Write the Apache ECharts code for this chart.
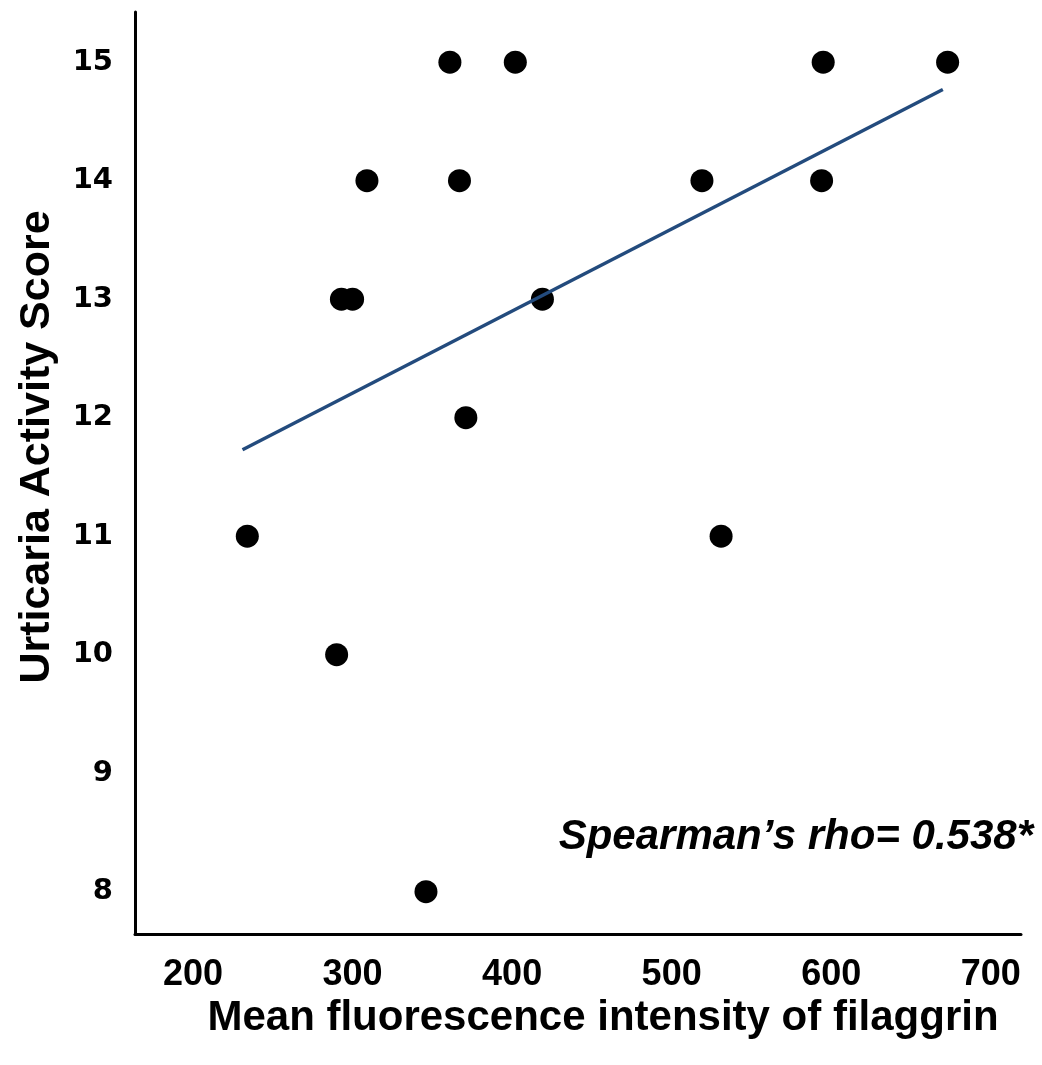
<!DOCTYPE html>
<html>
<head>
<meta charset="utf-8">
<script src="https://cdn.jsdelivr.net/npm/echarts@6/dist/echarts.min.js"></script>
<style>html,body{margin:0;padding:0;background:#fff}#c{width:1042px;height:1065px}</style>
</head>
<body>
<div id="c"></div>
<script>
// Data
const filaggrinMFI = [234, 290, 346, 531, 361, 402, 309, 367, 293, 300, 419, 371, 595, 673, 519, 594];
const uasScore     = [11,  10,  8,   11,  15,  15,  14,  14,  13,  13,  13,  12,  15,  15,  14,  14];
const trendX = [231, 670];
const trendY = [11.73, 14.77];
const xTitle = 'Mean fluorescence intensity of filaggrin';
const yTitle = 'Urticaria Activity Score';
const statText = 'Spearman\u2019s rho= 0.538*';

const points = filaggrinMFI.map((x, i) => [x, uasScore[i]]);
const trend = trendX.map((x, i) => [x, trendY[i]]);

const chart = echarts.init(document.getElementById('c'), null, {renderer: 'canvas'});
chart.setOption({
  animation: false,
  backgroundColor: '#fff',
  grid: {left: 135, right: 21, top: 12, bottom: 131, containLabel: false},
  xAxis: {
    type: 'value', min: 163.6, max: 719, splitNumber: 5,
    axisLine: {show: true, lineStyle: {color: '#000', width: 3}},
    axisTick: {show: false},
    splitLine: {show: false},
    axisLabel: {
      showMinLabel: false, showMaxLabel: false, margin: 23,
      color: '#000', fontWeight: 'bold', fontSize: 36,
      fontFamily: '"Liberation Sans", Arial, sans-serif',
      formatter: v => String(Math.round(v))
    },
    name: xTitle, nameLocation: 'middle', nameGap: 57,
    nameTextStyle: {color: '#000', fontWeight: 'bold', fontSize: 42,
      fontFamily: '"Liberation Sans", Arial, sans-serif', padding: [0, 0, 0, 50]}
  },
  yAxis: {
    type: 'value', min: 7.643, max: 15.424, splitNumber: 8,
    axisLine: {show: true, lineStyle: {color: '#000', width: 3}},
    axisTick: {show: false},
    splitLine: {show: false},
    axisLabel: {
      showMinLabel: false, showMaxLabel: false, margin: 22,
      color: '#000', fontWeight: 'bold', fontSize: 29,
      fontFamily: '"DejaVu Sans", sans-serif', padding: [4, 0, 0, 0],
      formatter: v => String(Math.round(v))
    },
    name: yTitle, nameLocation: 'middle', nameRotate: 90, nameGap: 76,
    nameTextStyle: {color: '#000', fontWeight: 'bold', fontSize: 43,
      fontFamily: '"Liberation Sans", Arial, sans-serif', padding: [0, 0, 0, 52]}
  },
  graphic: [{
    type: 'text', right: 9, top: 816,
    style: {text: statText, fill: '#000', font: 'italic bold 42px "Liberation Sans", Arial, sans-serif'}
  }],
  series: [
    {
      type: 'line', data: trend, symbol: 'none', z: 3,
      lineStyle: {color: '#234b7d', width: 3.5}
    },
    {
      type: 'scatter', data: points, symbol: 'circle', symbolSize: 23, z: 2,
      itemStyle: {color: '#000', opacity: 1}
    }
  ]
});
</script>
</body>
</html>
